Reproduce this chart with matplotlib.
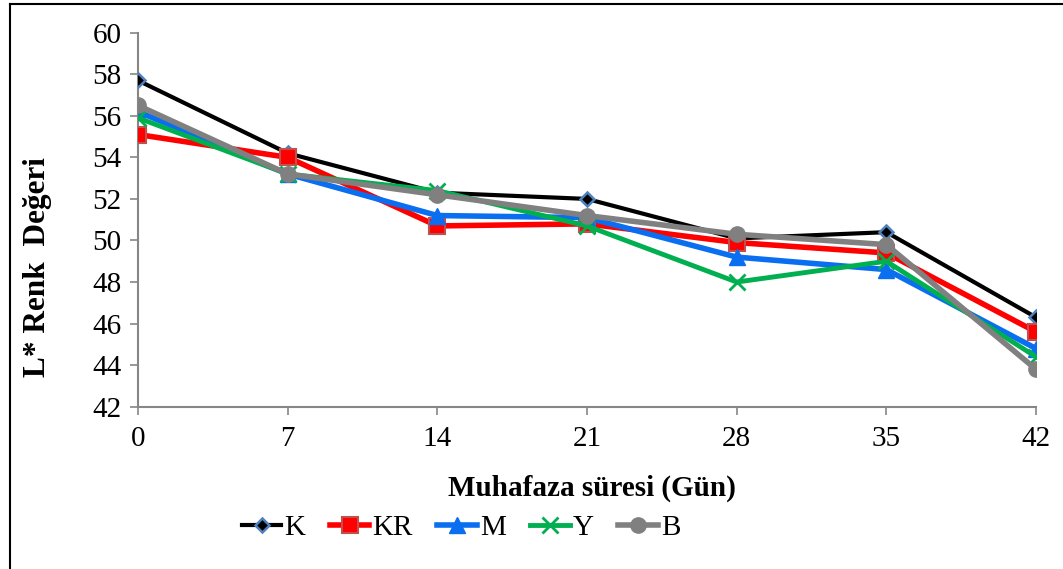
import matplotlib
matplotlib.use('Agg')
import matplotlib.pyplot as plt
from matplotlib.lines import Line2D

# Storage days
days = [0, 7, 14, 21, 28, 35, 42]

# L* colour values for each group
k_vals = [57.7, 54.2, 52.3, 52.0, 50.1, 50.4, 46.3]
kr_vals = [55.1, 54.0, 50.7, 50.8, 49.9, 49.4, 45.6]
m_vals = [56.2, 53.2, 51.2, 51.1, 49.2, 48.6, 44.8]
y_vals = [55.9, 53.2, 52.4, 50.7, 48.0, 49.0, 44.4]
b_vals = [56.5, 53.2, 52.2, 51.2, 50.3, 49.8, 43.8]

y_ticks = [42, 44, 46, 48, 50, 52, 54, 56, 58, 60]

plt.rcParams['font.family'] = ['Liberation Serif', 'DejaVu Serif']

W, H = 1063, 569
fig = plt.figure(figsize=(W / 100, H / 100), dpi=100)
ax = fig.add_axes([138 / W, 1 - 406.7 / H, (1036 - 138) / W, (406.7 - 32.7) / H])

axis_gray = '#868686'

ax.plot(days, k_vals, color='black', lw=3, marker='D', ms=7,
        mfc='black', mec='#4F81BD', mew=1.8, label='K', zorder=3)
ax.plot(days, kr_vals, color='#FF0000', lw=4, marker='s', ms=11,
        mfc='#FF0000', mec='#C0504D', mew=1.5, label='KR', zorder=3)
ax.plot(days, m_vals, color='#0A6EF0', lw=4, marker='^', ms=11,
        mfc='#0A6EF0', mec='#0A6EF0', label='M', zorder=3)
ax.plot(days, y_vals, color='#00B050', lw=3.5, marker='x', ms=11,
        mew=2, label='Y', zorder=3)
ax.plot(days, b_vals, color='#808080', lw=4, marker='o', ms=11,
        mfc='#808080', mec='#808080', label='B', zorder=3)

ax.set_xlim(0, 42)
ax.set_ylim(42, 60)
ax.set_xticks(days)
ax.set_yticks(y_ticks)
ax.tick_params(axis='both', direction='out', length=6, width=1.2,
               color=axis_gray, labelsize=21)
ax.tick_params(axis='y', pad=6)
ax.tick_params(axis='x', pad=8)

for side in ['top', 'right']:
    ax.spines[side].set_visible(False)
for side in ['left', 'bottom']:
    ax.spines[side].set_color(axis_gray)
    ax.spines[side].set_linewidth(1.5)

fig.text(592 / W, 1 - 488 / H, 'Muhafaza süresi (Gün)', ha='center', va='center',
         fontsize=21, fontweight='bold')
fig.text(38 / W, 1 - 267 / H, 'L* Renk  Değeri', ha='center', va='center',
         rotation=90, fontsize=22.5, fontweight='bold')

fig.legend(loc='center', bbox_to_anchor=(461 / W, 1 - 528 / H), ncol=5,
           frameon=False, fontsize=21, handlelength=1.35, columnspacing=0.85,
           handletextpad=0.1)

# outer frame (left and top edges visible)
fig.add_artist(Line2D([9.5 / W, 9.5 / W], [0, 1 - 4 / H], color='black', lw=1.5,
                      transform=fig.transFigure))
fig.add_artist(Line2D([9.5 / W, 1], [1 - 4 / H, 1 - 4 / H], color='black', lw=1.5,
                      transform=fig.transFigure))

fig.savefig('out.png', dpi=100)
